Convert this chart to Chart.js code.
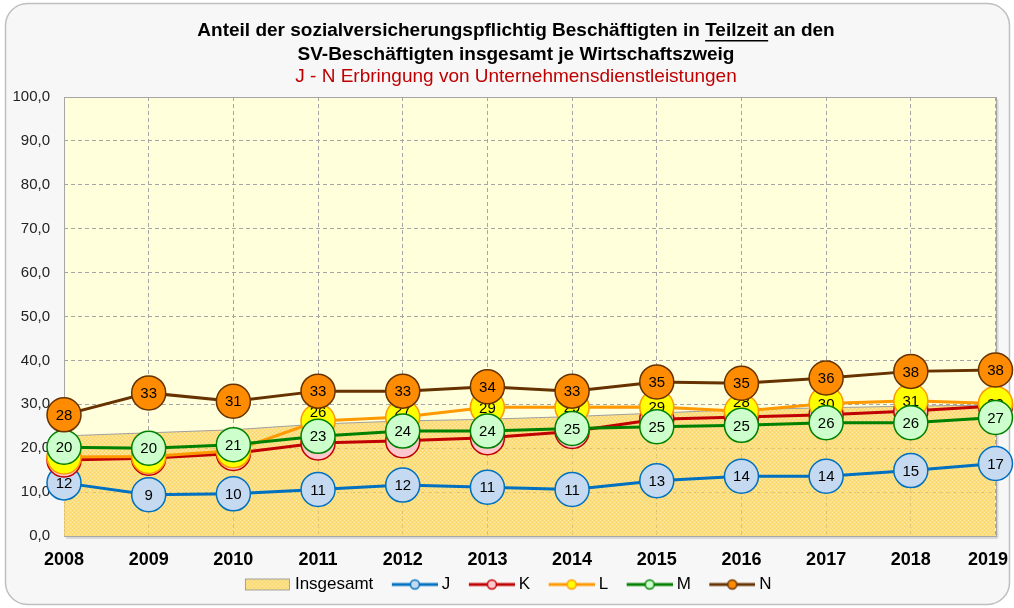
<!DOCTYPE html>
<html><head><meta charset="utf-8">
<script src="https://cdn.jsdelivr.net/npm/chart.js@4.4.1/dist/chart.umd.min.js"></script>
<style>html,body{margin:0;padding:0;background:#fff}#wrap{width:1014px;height:608px}</style>
</head><body><div id="wrap"><canvas id="c" width="1014" height="608"></canvas></div>
<script>
// ---- data ----
const years = ['2008','2009','2010','2011','2012','2013','2014','2015','2016','2017','2018','2019'];
const insgesamt = [22.8, 23.5, 24.2, 25.5, 26.2, 26.6, 27.2, 28.0, 28.8, 29.2, 29.6, 29.8];
const seriesJ = [12.1, 9.4, 9.6, 10.6, 11.6, 11.1, 10.6, 12.6, 13.6, 13.6, 14.9, 16.5];
const seriesK = [17.3, 17.7, 18.8, 21.2, 21.7, 22.4, 23.8, 26.6, 27.1, 27.6, 28.5, 29.6];
const seriesL = [18.0, 18.1, 19.4, 26.2, 27.1, 29.3, 29.3, 29.4, 28.4, 30.2, 30.8, 30.2];
const seriesM = [20.2, 20.0, 20.8, 22.7, 23.9, 23.9, 24.5, 24.9, 25.2, 25.8, 25.8, 27.0];
const seriesN = [27.6, 32.6, 30.7, 33.0, 33.0, 34.0, 33.0, 35.1, 34.8, 36.0, 37.5, 37.8];
const yMin = 0, yMax = 100, yStep = 10;
const titleLine1 = ['Anteil der sozialversicherungspflichtig Beschäftigten in ', 'Teilzeit', ' an den'];
const titleLine2 = 'SV-Beschäftigten insgesamt je Wirtschaftszweig';
const subTitle = 'J - N Erbringung von Unternehmensdienstleistungen';

const FONT = '"Liberation Sans", Arial, sans-serif';
Chart.defaults.font.family = FONT;

const canvas = document.getElementById('c');
const mainCtx = canvas.getContext('2d');

function makePatternCanvas() {
  const p = document.createElement('canvas'); p.width = 4; p.height = 4;
  const g = p.getContext('2d');
  g.fillStyle = 'rgba(250,206,80,0.68)'; g.fillRect(0, 0, 4, 4);
  g.fillStyle = 'rgba(255,248,215,0.5)'; g.fillRect(0, 0, 1, 1); g.fillRect(2, 2, 1, 1);
  g.fillStyle = 'rgba(240,190,60,0.3)'; g.fillRect(2, 0, 1, 1); g.fillRect(0, 2, 1, 1);
  return p;
}
const patCanvas = makePatternCanvas();
const areaPattern = mainCtx.createPattern(patCanvas, 'repeat');

// legend images (width 61, 46px content at the right)
function legendLine(color, fill) {
  const c = document.createElement('canvas'); c.width = 61; c.height = 14;
  const g = c.getContext('2d');
  g.strokeStyle = color; g.lineWidth = 3;
  g.beginPath(); g.moveTo(15, 7); g.lineTo(61, 7); g.stroke();
  g.beginPath(); g.arc(38, 7, 4.5, 0, Math.PI * 2);
  g.fillStyle = fill; g.fill(); g.lineWidth = 1.5; g.stroke();
  return c;
}
function legendArea() {
  const c = document.createElement('canvas'); c.width = 61; c.height = 14;
  const g = c.getContext('2d');
  g.fillStyle = '#FFFFDC'; g.fillRect(15, 1, 45, 12);
  g.fillStyle = g.createPattern(patCanvas, 'repeat'); g.fillRect(15, 1, 45, 12);
  g.strokeStyle = '#A0A0A0'; g.lineWidth = 1; g.strokeRect(15.5, 1.5, 44, 11);
  return c;
}

const lineStyles = [
  {label: 'J', data: seriesJ, color: '#0070C0', fill: '#C5D9F1', order: 5},
  {label: 'K', data: seriesK, color: '#C00000', fill: '#FFC7CE', order: 4},
  {label: 'L', data: seriesL, color: '#FF9900', fill: '#FFFF00', order: 3, labelShift: {3: -9, 4: -7, 6: -1, 8: -9}},
  {label: 'M', data: seriesM, color: '#008000', fill: '#CCFFCC', order: 2},
  {label: 'N', data: seriesN, color: '#663300', fill: '#FF8C00', order: 1},
];

const datasets = [{
  label: 'Insgesamt', data: insgesamt, fill: 'origin', backgroundColor: areaPattern,
  borderColor: '#A0A0A0', borderWidth: 1, pointRadius: 0, tension: 0, order: 6, clip: false,
  legendImg: legendArea()
}].concat(lineStyles.map(s => ({
  label: s.label, data: s.data, borderColor: s.color, borderWidth: 3, fill: false,
  pointRadius: 17, pointBackgroundColor: s.fill, pointBorderColor: s.color, pointBorderWidth: 1.5,
  tension: 0, order: s.order, clip: false, showLabels: true, labelShift: s.labelShift || {},
  legendImg: legendLine(s.color, s.fill)
})));

const bgPlugin = {
  id: 'bg',
  beforeDraw(chart) {
    const ctx = chart.ctx, a = chart.chartArea;
    ctx.save();
    ctx.fillStyle = '#FFFFFF'; ctx.fillRect(0, 0, chart.width, chart.height);
    ctx.beginPath(); ctx.roundRect(5.5, 3.5, 1004, 601, 22);
    ctx.fillStyle = '#F7F7F7'; ctx.fill();
    ctx.strokeStyle = '#BFBFBF'; ctx.lineWidth = 1.5; ctx.stroke();
    // plot shadow
    ctx.fillStyle = '#D9D9D9';
    ctx.fillRect(a.left + 2, a.bottom, a.right - a.left, 3);
    ctx.fillRect(a.right, a.top + 2, 3, a.bottom - a.top);
    ctx.fillStyle = '#FFFFDC'; ctx.fillRect(a.left, a.top, a.right - a.left, a.bottom - a.top);
    // titles
    const cx = 516;
    ctx.fillStyle = '#000'; ctx.textBaseline = 'middle'; ctx.textAlign = 'left';
    ctx.font = 'bold 19px ' + FONT;
    const full = titleLine1.join('');
    const w = ctx.measureText(full).width;
    let x = cx - w / 2;
    ctx.fillText(full, x, 31);
    const pre = ctx.measureText(titleLine1[0]).width;
    const uw = ctx.measureText(titleLine1[1]).width;
    ctx.fillRect(x + pre, 40, uw, 1.5);
    ctx.textAlign = 'center';
    ctx.fillText(titleLine2, cx, 55);
    ctx.font = '19px ' + FONT; ctx.fillStyle = '#C00000';
    ctx.fillText(subTitle, cx, 77);
    ctx.restore();
  },
  beforeDatasetsDraw(chart) {
    const ctx = chart.ctx, a = chart.chartArea;
    ctx.save(); ctx.strokeStyle = '#A6A6A6'; ctx.lineWidth = 1;
    ctx.strokeRect(Math.round(a.left) + 0.5, Math.round(a.top) + 0.5, Math.round(a.right - a.left), Math.round(a.bottom - a.top));
    ctx.restore();
  }
};

const labelPlugin = {
  id: 'ptlabels',
  afterDatasetDraw(chart, args) {
    const ds = chart.data.datasets[args.index];
    if (!ds.showLabels) return;
    const ctx = chart.ctx;
    ctx.save();
    ctx.font = '15px ' + FONT; ctx.fillStyle = '#000';
    ctx.textAlign = 'center'; ctx.textBaseline = 'middle';
    args.meta.data.forEach((pt, i) => ctx.fillText(String(Math.round(ds.data[i])), pt.x, pt.y + 1 + (ds.labelShift[i] || 0)));
    ctx.restore();
  }
};

new Chart(canvas, {
  type: 'line',
  data: {labels: years, datasets: datasets},
  options: {
    responsive: false, animation: false, events: [], devicePixelRatio: 1,
    layout: {padding: {top: 97, left: 10, right: 18, bottom: 5}},
    scales: {
      x: {
        offset: false,
        grid: {color: '#A6A6A6', drawTicks: false},
        border: {display: false, dash: [4, 3]},
        ticks: {font: {size: 18, weight: 'bold'}, color: '#000', padding: 13, maxRotation: 0, autoSkip: false,
          callback(v, i, ticks) {
            const t = this.getLabelForValue(v);
            return i === ticks.length - 1 ? t + '\u00A0\u00A0\u00A0' : t;
          }},
        afterFit(s) { s.height = 32; s.paddingLeft = 0; s.paddingRight = 0; }
      },
      y: {
        min: yMin, max: yMax,
        grid: {color: '#A6A6A6', drawTicks: false},
        border: {display: false, dash: [4, 3]},
        ticks: {stepSize: yStep, font: {size: 15}, color: '#222', padding: 14,
          callback: v => v.toFixed(1).replace('.', ',')},
        afterFit(s) { s.width = 54; }
      }
    },
    plugins: {
      legend: {
        position: 'bottom',
        labels: {
          usePointStyle: true, pointStyleWidth: 52, padding: 8,
          font: {size: 17}, color: '#000',
          sort: (a, b) => a.datasetIndex - b.datasetIndex,
          generateLabels(chart) {
            const items = Chart.defaults.plugins.legend.labels.generateLabels(chart);
            items.forEach(it => { it.pointStyle = chart.data.datasets[it.datasetIndex].legendImg; it.rotation = 0; });
            return items;
          }
        }
      },
      tooltip: {enabled: false}
    }
  },
  plugins: [bgPlugin, labelPlugin]
});
</script></body></html>
